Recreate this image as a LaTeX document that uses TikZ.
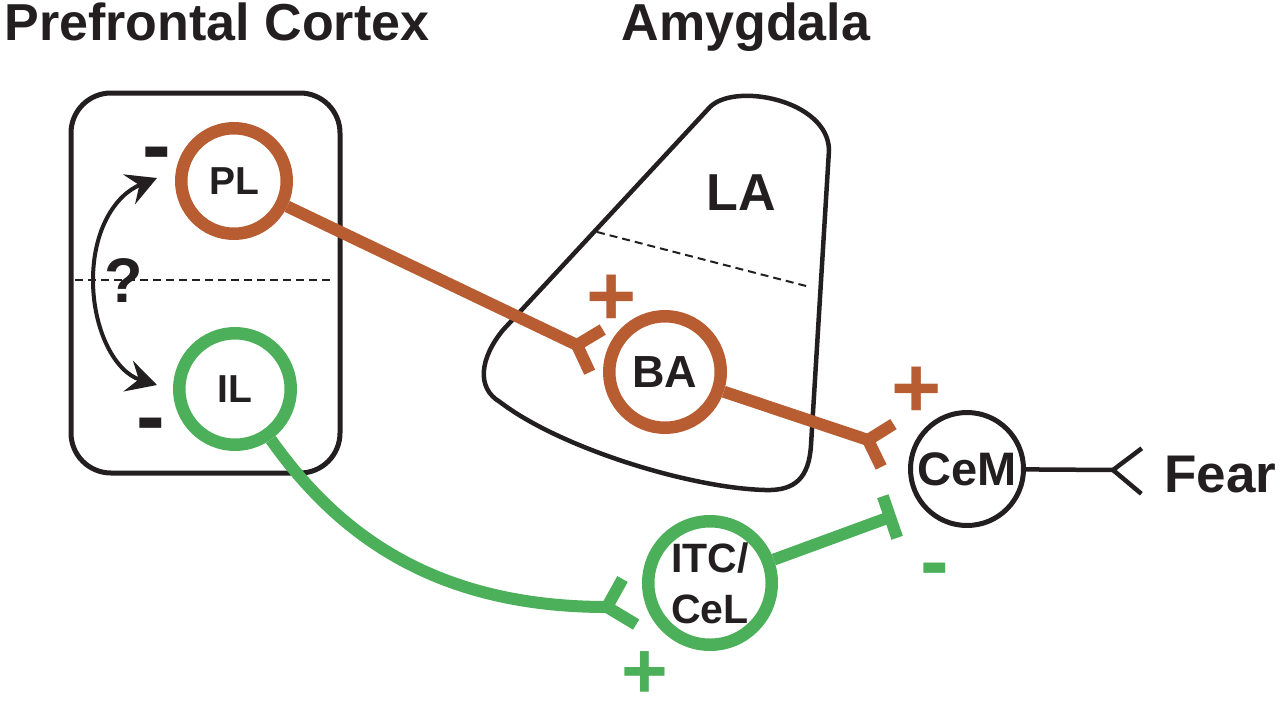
\documentclass[tikz,border=0pt]{standalone}
\usepackage{fontspec}
\setmainfont{Liberation Sans}
\usetikzlibrary{arrows.meta}
\definecolor{rust}{RGB}{184,92,50}
\definecolor{leaf}{RGB}{76,175,90}
\definecolor{ink}{RGB}{35,31,32}
\newcommand{\fs}[1]{\fontsize{#1}{#1}\selectfont\bfseries}

\begin{document}
\begin{tikzpicture}[x=1pt, y=-1pt, color=ink,
	neuron/.style={circle, line width=12.5, inner sep=0, text=ink, font=\fs{39}},
	axon/.style={line width=12, line cap=butt, line join=miter},
	sign/.style={inner sep=0, font=\fs{86}},
	divider/.style={line width=2, dash pattern=on 8pt off 5pt},
	title/.style={inner sep=0, anchor=base, font=\fs{52}}]
		\useasboundingbox (0,0) rectangle (1280,707);
		\node[title] (pfc) at (217,40) {Prefrontal Cortex};
		\node[title] (amy) at (746,40) {Amygdala};
		\draw[line width=5, rounded corners=40pt] (71,93) rectangle (340,473);
		\draw[divider] (75,280) -- (332,280);
		\draw[line width=4.5] (503,330) -- (710,107) .. controls (735,82) and (828,100) .. (829,150) -- (811,445) .. controls (809,478) and (795,491) .. (765,490) .. controls (690,488) and (560,448) .. (500,402) .. controls (476,388) and (480,358) .. cycle;
		\draw[divider] (597,232) -- (810,287);
		\node[inner sep=0, font=\fs{52}] (LA) at (741,193) {LA};
		\node[inner sep=0, font=\fs{63}] (ask) at (124,281) {?};
		\node[neuron, draw=rust, minimum size=105.5pt] (PL) at (234,181) {PL};
		\node[neuron, draw=leaf, minimum size=111.5pt] (IL) at (235,389) {IL};
		\node[neuron, draw=rust, minimum size=111.5pt, font=\fs{45}] (BA) at (665,372) {BA};
		\node[neuron, draw=leaf, minimum size=123.5pt, align=center, font={\fontsize{41}{51}\selectfont\bfseries}] (ITC) at (710,583) {ITC/\\CeL};
		\node[neuron, draw=ink, line width=5, minimum size=113pt, font=\fs{47}] (CeM) at (967,469) {CeM};
		\node[inner sep=0, anchor=base west, font=\fs{53}] (fear) at (1164,492) {Fear};
		\coordinate (synBA) at (577,345);
		\coordinate (synCeM) at (868,440);
		\coordinate (synITC) at (607,607);
		\coordinate (barCeM) at (890,517);
		\coordinate (synFear) at (1113,470);
		\coordinate (arrPL) at (157,178);
		\coordinate (arrIL) at (157,385);
		\draw[axon, rust] (PL) -- (synBA);
		\draw[axon, rust] (synBA) ++(-31:30) -- (synBA) -- ++(65:30);
		\draw[axon, rust] (BA) -- (synCeM);
		\draw[axon, rust] (synCeM) ++(-32:30) -- (synCeM) -- ++(64:30);
		\draw[axon, leaf] (IL) .. controls (335,530) and (430,607) .. (synITC);
		\draw[axon, leaf] (synITC) ++(-61:32) -- (synITC) -- ++(31:34);
		\draw[axon, leaf] (ITC) -- (barCeM);
		\draw[axon, leaf] (barCeM) ++(71:22) -- ++(-109:44);
		\draw[line width=4.5] (CeM) -- (synFear);
		\draw[line width=4.5, line join=miter] (synFear) ++(-37:36) -- (synFear) -- ++(40:37);
		\draw[line width=4, {Stealth[length=30pt,width=32pt,inset=11pt]}-{Stealth[length=30pt,width=32pt,inset=11pt]}] (arrIL) .. controls (115,372) and (93,330) .. (93,280) .. controls (93,230) and (115,195) .. (arrPL);
		\node[sign, rust] (plusBA) at (612,300) {+};
		\node[sign, rust] (plusCeM) at (917,392) {+};
		\node[sign, leaf] (minusCeM) at (935,577) {-};
		\node[sign, leaf, font=\fs{80}] (plusITC) at (645,675) {+};
		\node[sign] (minusPL) at (157,161) {-};
		\node[sign] (minusIL) at (151,432) {-};
\end{tikzpicture}
\end{document}
